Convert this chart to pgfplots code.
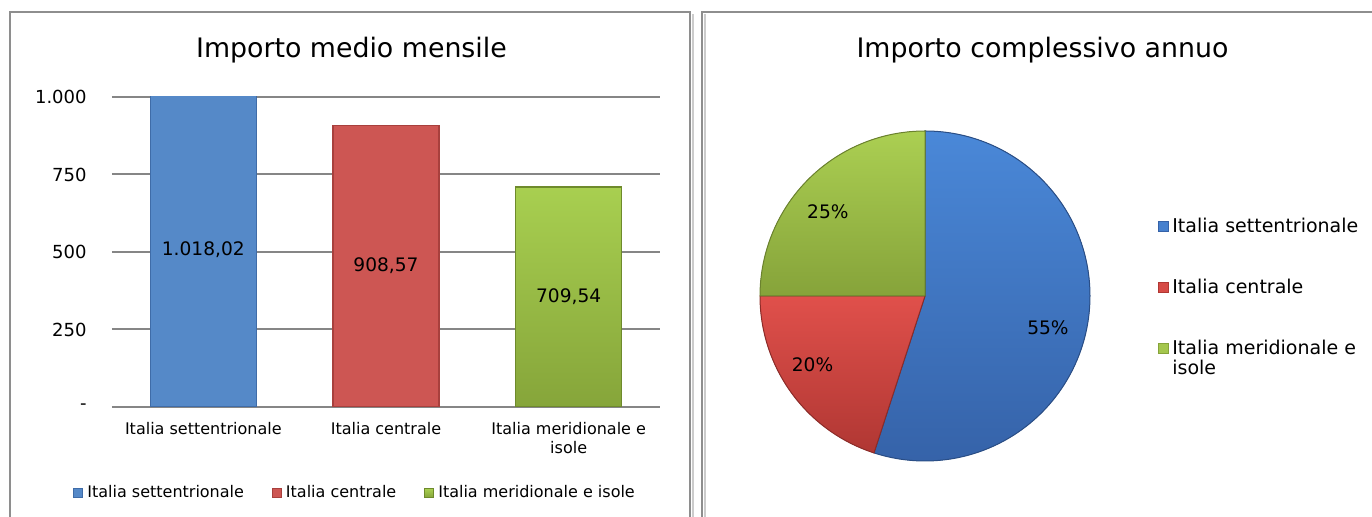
\documentclass[border=0pt]{standalone}
\usepackage{pgfplots}
\pgfplotsset{compat=1.18}
\usepackage{pgfplotstable}
\usepackage{fontspec}
\setmainfont{DejaVu Sans}

\definecolor{bluebar}{HTML}{5589C8}
\definecolor{bluedark}{HTML}{3F6CA8}
\definecolor{redbar}{HTML}{CD5653}
\definecolor{reddark}{HTML}{A8403D}
\definecolor{greenbar}{HTML}{9CC146}
\definecolor{greentop}{HTML}{A8CF50}
\definecolor{greenbot}{HTML}{86A53A}
\definecolor{greendark}{HTML}{6E8A2C}
\definecolor{gridgray}{HTML}{868686}
\definecolor{framegray}{HTML}{8E8E8E}
\definecolor{pieblueT}{HTML}{4A88D8}
\definecolor{pieblueB}{HTML}{3562A8}
\definecolor{pieredT}{HTML}{E0504B}
\definecolor{pieredB}{HTML}{B03733}
\definecolor{piegreenT}{HTML}{ABCF52}
\definecolor{piegreenB}{HTML}{86A33A}

\newcommand{\fTitle}{\fontsize{13.4}{16}\selectfont}
\newcommand{\fTick}{\fontsize{9}{11}\selectfont}
\newcommand{\fCat}{\fontsize{8}{9.5}\selectfont}
\newcommand{\fVal}{\fontsize{9.3}{11}\selectfont}
\newcommand{\fLeg}{\fontsize{9.5}{10}\selectfont}

\pgfplotstableread{
x v lab
0 1018.02 1.018,02
1 908.57 908,57
2 709.54 709,54
}\bardata

% shares of the annual total (percent)
\def\pA{55}
\def\pB{20}
\def\pC{25}

\begin{document}
\begin{tikzpicture}
\useasboundingbox (0pt,0pt) rectangle (686pt,258.5pt);

% panel frames
\draw[framegray!45, line width=0.9pt] (346.3pt,-2pt) -- (346.3pt,251.5pt);
\draw[framegray, line width=1pt] (5pt,-2pt) -- (5pt,252.5pt) -- (345pt,252.5pt) -- (345pt,-2pt);
\draw[framegray!45, line width=0.9pt] (352.3pt,-2pt) -- (352.3pt,251.5pt);
\draw[framegray, line width=1pt] (351pt,-2pt) -- (351pt,252.5pt) -- (690pt,252.5pt);

% ---------------- bar chart ----------------
\begin{axis}[
  at={(56pt,55pt)}, anchor=south west,
  scale only axis, width=274pt, height=155pt,
  xmin=-0.5, xmax=2.5, ymin=0, ymax=1000,
  axis line style={draw=none},
  tick style={draw=none},
  ymajorgrids, grid style={gridgray, line width=1pt},
  ytick={0,250,500,750,1000},
  yticklabels={-,250,500,750,1.000},
  yticklabel style={font=\fTick, anchor=east, inner sep=0pt, xshift=-12.5pt},
  xtick={0,1,2},
  xticklabels={Italia settentrionale, Italia centrale, {Italia meridionale e\\isole}},
  xticklabel style={font=\fCat, align=center, anchor=north, inner sep=0pt, yshift=-3pt},
  /pgf/number format/assume math mode=true,
  title={Importo medio mensile},
  title style={font=\fTitle, at={(axis description cs:0.437,1.126)}, anchor=base, yshift=-6pt},
  ybar, bar width=53pt,
  legend columns=3,
  legend style={at={(axis description cs:-0.0712,-0.3032)}, anchor=south west,
    draw=none, fill=none, inner sep=0pt, font=\fCat,
    nodes={inner sep=0pt},
    /tikz/every odd column/.append style={column sep=2.2pt},
    /tikz/every even column/.append style={column sep=14pt}},
  legend image code/.code={\draw[#1, line width=0.4pt] (0pt,-2.2pt) rectangle (4.4pt,2.2pt);},
]
\addplot[fill=bluebar, draw=bluedark, line width=0.8pt, bar shift=0pt] coordinates {(0,1018.02)};
\addplot[fill=redbar, draw=reddark, line width=0.8pt, bar shift=0pt] coordinates {(1,908.57)};
\addplot[top color=greentop, bottom color=greenbot, fill=greenbar, draw=greendark, line width=0.8pt, bar shift=0pt] coordinates {(2,709.54)};
\legend{Italia settentrionale, Italia centrale, Italia meridionale e isole}
\addplot[forget plot, draw=none, fill=none, bar shift=0pt,
  nodes near coords, point meta=explicit symbolic,
  nodes near coords style={anchor=center, font=\fVal, text=black}]
  table[x=x, y expr=\thisrow{v}/2, meta=lab] {\bardata};
\end{axis}

% ---------------- pie chart ----------------
\begin{axis}[
  at={(462.5pt,110.5pt)}, anchor=center,
  hide axis, x=82.5pt, y=82.5pt,
  xmin=-1, xmax=1, ymin=-1, ymax=1, clip=false,
  title={Importo complessivo annuo},
  title style={font=\fTitle, at={(axis description cs:0.856,1.2212)}, anchor=base, yshift=-6pt},
  legend style={at={(axis description cs:1.206,0.7394)}, anchor=north west,
    draw=none, fill=none, inner sep=0pt, font=\fLeg,
    nodes={inner sep=0pt, text height=7.5pt},
    row sep=21.5pt,
    /tikz/every odd column/.append style={column sep=2pt}},
  legend cell align=left,
  legend image code/.code={\draw[#1, line width=0.4pt] (0pt,-2.3pt) rectangle (4.6pt,2.3pt);},
]
\addlegendimage{fill=pieblueT!80!pieblueB, draw=pieblueB}
\addlegendentry{Italia settentrionale}
\addlegendimage{fill=pieredT!80!pieredB, draw=pieredB}
\addlegendentry{Italia centrale}
\addlegendimage{fill=piegreenT!80!piegreenB, draw=piegreenB}
\addlegendentry{\begin{tabular}[t]{@{}l@{}}Italia meridionale e\\isole\end{tabular}}

\fill[top color=pieblueT, bottom color=pieblueB, draw=pieblueB!80!black, line width=0.5pt]
  (axis cs:0,0) -- (axis cs:0,1) arc[start angle=90, end angle={90-3.6*\pA}, radius=82.5pt] -- cycle;
\fill[top color=pieredT, bottom color=pieredB, draw=pieredB!80!black, line width=0.5pt]
  (axis cs:0,0) -- (axis cs:{cos(90-3.6*\pA)},{sin(90-3.6*\pA)}) arc[start angle={90-3.6*\pA}, end angle={90-3.6*(\pA+\pB)}, radius=82.5pt] -- cycle;
\fill[top color=piegreenT, bottom color=piegreenB, draw=piegreenB!80!black, line width=0.5pt]
  (axis cs:0,0) -- (axis cs:{cos(90-3.6*(\pA+\pB))},{sin(90-3.6*(\pA+\pB))}) arc[start angle={90-3.6*(\pA+\pB)}, end angle={90-3.6*(\pA+\pB+\pC)}, radius=82.5pt] -- cycle;

% data labels (Excel best-fit positions, polar: angle, fraction of radius)
\node[font=\fVal] at (axis cs:{0.77*cos(-14.6)},{0.77*sin(-14.6)}) {\pA\%};
\node[font=\fVal] at (axis cs:{0.80*cos(211.6)},{0.80*sin(211.6)}) {\pB\%};
\node[font=\fVal] at (axis cs:{0.78*cos(139)},{0.78*sin(139)}) {\pC\%};
\end{axis}
\end{tikzpicture}
\end{document}
